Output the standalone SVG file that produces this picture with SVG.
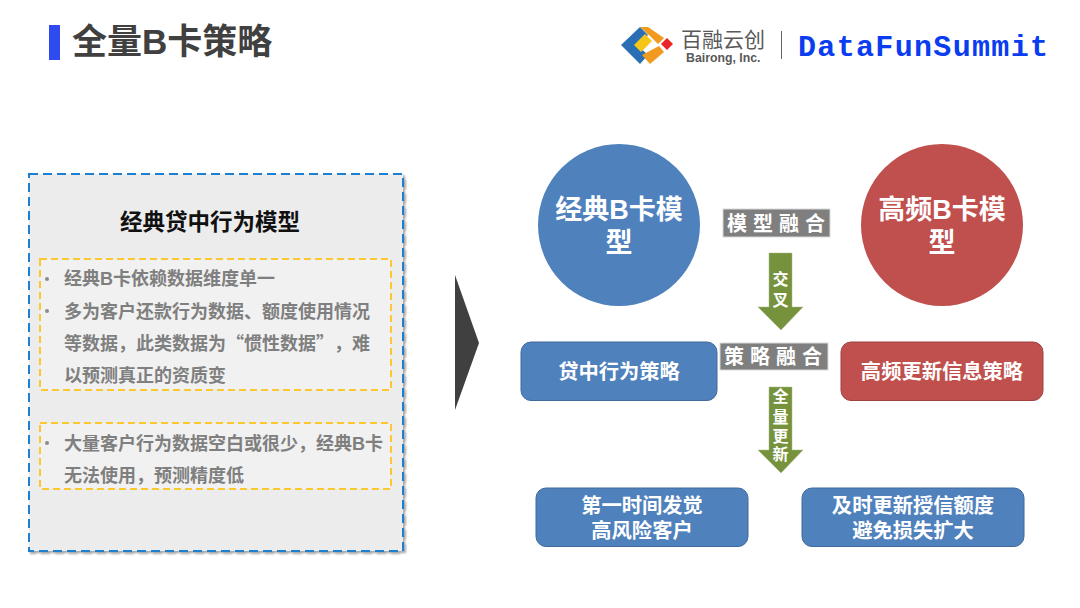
<svg xmlns="http://www.w3.org/2000/svg" width="1080" height="608" viewBox="0 0 1080 608">
<defs>
<style>
text{font-family:"Liberation Sans","Noto Sans CJK SC",sans-serif}
.b{font-weight:700}
.m{text-anchor:middle}
.w{fill:#fff;font-weight:700;text-anchor:middle}
.g{fill:#7f7f7f;font-size:18px;font-weight:700;text-spacing-trim:space-all}
.q{font-family:"Noto Sans CJK SC",sans-serif}
.y{fill:#f1f1f1;stroke:#fdc82f;stroke-width:2;stroke-dasharray:7 4}
.bl{fill:#4f81bd;stroke:#41699a;stroke-width:1}
.rd{fill:#c0504d;stroke:#9e413f;stroke-width:1}
.lab{fill:#7f7f7f;stroke:#d9d9d9;stroke-width:1}
.ar{fill:#76923c;stroke:#a5b884;stroke-width:.5}
.df{font-family:"Liberation Mono",monospace;font-weight:700;font-size:30px;fill:#0a3cf0}
</style>
<filter id="sh" x="-3%" y="-3%" width="106%" height="106%"><feDropShadow dx="2" dy="2" stdDeviation="1.2" flood-color="#000" flood-opacity=".35"/></filter>
</defs>
<rect width="1080" height="608" fill="#fff"/>
<g id="title">
<rect x="49" y="25" width="11" height="35" fill="#2f4bf0"/>
<text x="72" y="54" class="b" font-size="35" fill="#404040">全量B卡策略</text>
</g>
<g id="logo">
<polygon points="621,45 640,27 648,35 637,45 648,55 640,64" fill="#2a6fb5"/>
<polygon points="634,45 645,34 652,41 641,52" fill="#f5c518"/>
<polygon points="640,27 648,27 664,38 658,44 650,36" fill="#f29a1f"/>
<polygon points="642,55 659,46 664,52 650,64" fill="#f29a1f"/>
<polygon points="667,38 673,44 667,50 661,44" fill="#e8262a"/>
<text x="681" y="47" font-size="21" fill="#595959">百融云创</text>
<text x="686" y="62" font-size="12.300" class="b" fill="#595959">Bairong, Inc.</text>
<rect x="781" y="31" width="1" height="28" fill="#666"/>
<text x="798" y="56" class="df" textLength="250">DataFunSummit</text>
</g>
<g id="left-panel">
<rect x="29" y="174" width="374" height="377" fill="#ececec" stroke="#1f7fd0" stroke-width="2" stroke-dasharray="9 5" filter="url(#sh)"/>
<text x="210" y="230" class="b m" font-size="22.500" fill="#111">经典贷中行为模型</text>
</g>
<g id="box-1">
<rect class="y" x="40" y="259" width="351" height="131"/>
<circle cx="47" cy="279" r="2" fill="#8c8c8c"/>
<circle cx="47" cy="311" r="2" fill="#8c8c8c"/>
<text class="g" x="64" y="285">经典B卡依赖数据维度单一</text>
<text class="g" x="64" y="318">多为客户还款行为数据、额度使用情况</text>
<text class="g" x="64" y="350">等数据，此类数据为<tspan class="q">“</tspan>惯性数据<tspan class="q">”</tspan>，难</text>
<text class="g" x="64" y="382">以预测真正的资质变</text>
</g>
<g id="box-2">
<rect class="y" x="40" y="423" width="351" height="66"/>
<circle cx="47" cy="443" r="2" fill="#8c8c8c"/>
<text class="g" x="64" y="450">大量客户行为数据空白或很少，经典B卡</text>
<text class="g" x="64" y="482">无法使用，预测精度低</text>
</g>
<g id="big-arrow"><polygon points="455,275 479,343 455,410" fill="#404040"/></g>
<g id="node-classic">
<circle cx="619" cy="225" r="81" fill="#4f81bd"/>
<text class="w" x="619" y="219" font-size="27">经典B卡模</text>
<text class="w" x="619" y="252" font-size="27">型</text>
</g>
<g id="node-freq">
<circle cx="942" cy="225" r="81" fill="#c0504d"/>
<text class="w" x="942" y="219" font-size="27">高频B卡模</text>
<text class="w" x="942" y="252" font-size="27">型</text>
</g>
<g id="label-model">
<rect class="lab" x="723" y="209" width="107" height="28"/>
<text class="w" x="779" y="231" font-size="20" letter-spacing="6">模型融合</text>
</g>
<g id="label-strategy">
<rect class="lab" x="720" y="343" width="108" height="27"/>
<text class="w" x="776" y="364" font-size="20" letter-spacing="6">策略融合</text>
</g>
<g id="connectors">
<polygon class="ar" points="769,253 792,253 792,307 803,307 781,330 758,307 769,307"/>
<polygon class="ar" points="769,387 792,387 792,450 803,450 781,473 758,450 769,450"/>
<text class="w" x="780.500" y="285" font-size="16">交</text>
<text class="w" x="780.500" y="306" font-size="16">叉</text>
<text class="w" x="780.500" y="402" font-size="16">全</text>
<text class="w" x="780.500" y="423" font-size="16">量</text>
<text class="w" x="780.500" y="442" font-size="16">更</text>
<text class="w" x="780.500" y="460" font-size="16">新</text>
</g>
<g id="node-loan">
<rect class="bl" x="521" y="342" width="196" height="58.500" rx="10"/>
<text class="w" x="619" y="379" font-size="20.300">贷中行为策略</text>
</g>
<g id="node-update">
<rect class="rd" x="841" y="342" width="202" height="58.500" rx="10"/>
<text class="w" x="942" y="379" font-size="20.300">高频更新信息策略</text>
</g>
<g id="node-risk">
<rect class="bl" x="536" y="488" width="212" height="58.500" rx="10"/>
<text class="w" x="642" y="513" font-size="20.300">第一时间发觉</text>
<text class="w" x="642" y="538" font-size="20.300">高风险客户</text>
</g>
<g id="node-credit">
<rect class="bl" x="802" y="488" width="222" height="58.500" rx="10"/>
<text class="w" x="913" y="513" font-size="20.300">及时更新授信额度</text>
<text class="w" x="913" y="538" font-size="20.300">避免损失扩大</text>
</g>
</svg>
